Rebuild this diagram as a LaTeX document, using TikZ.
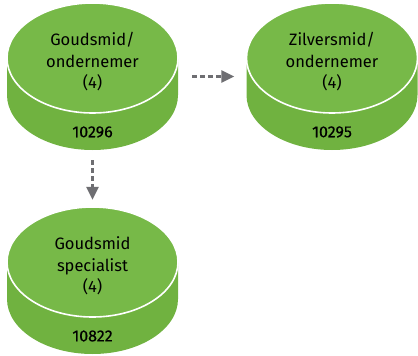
\documentclass[tikz,border=0pt]{standalone}
\usepackage{fontspec}
\setmainfont{Fira Sans}
\usetikzlibrary{arrows.meta}
\definecolor{discgreen}{RGB}{119,185,72}
\definecolor{discside}{RGB}{112,178,64}
\definecolor{flowgrey}{RGB}{110,110,114}
\tikzset{
  disctitle/.style={align=center,font=\fontsize{16.5}{21.5}\selectfont,text=black,inner sep=0pt},
  disccode/.style={font=\fontsize{16}{18}\selectfont\addfontfeatures{FakeBold=0.3},text=black,inner sep=0pt},
  discbox/.style={draw=none,minimum width=171pt,minimum height=147pt,inner sep=0pt},
  flow/.style={draw=flowgrey,line width=2.6pt,dash pattern=on 5pt off 3pt,
    -{Triangle[length=13pt,width=12pt,fill=flowgrey]}},
}
% one disc: #1 centre x, #2 top y, #3 name, #4 title, #5 code
\newcommand{\disc}[5]{%
  \fill[discside] (#1-85.5,#2+55) -- (#1-85.5,#2+92)
    arc[start angle=180,end angle=0,x radius=85.5,y radius=55]
    -- (#1+85.5,#2+55) -- cycle;
  \draw[fill=discgreen,draw=white,line width=1.6pt] (#1,#2+55) ellipse[x radius=85.5,y radius=55];
  \node[discbox] (#3) at (#1,#2+73.5) {};
  \node[disctitle] at (#1,#2+59) {#4};
  \node[disccode] at (#1,#2+129) {#5};
}
\begin{document}
\begin{tikzpicture}[x=1pt,y=-1pt]
  \useasboundingbox (0,0) rectangle (418,356);
  \disc{92.5}{3}{goud}{Goudsmid/\\ondernemer\\(4)}{10296}
  \disc{332}{3}{zilver}{Zilversmid/\\ondernemer\\(4)}{10295}
  \disc{92.5}{207}{spec}{Goudsmid\\specialist\\(4)}{10822}
  \draw[flow] ([xshift=14pt]goud.east) -- ([xshift=-12pt]zilver.west);
  \draw[flow] ([yshift=-10pt]goud.south) -- ([yshift=7pt]spec.north);
\end{tikzpicture}
\end{document}
